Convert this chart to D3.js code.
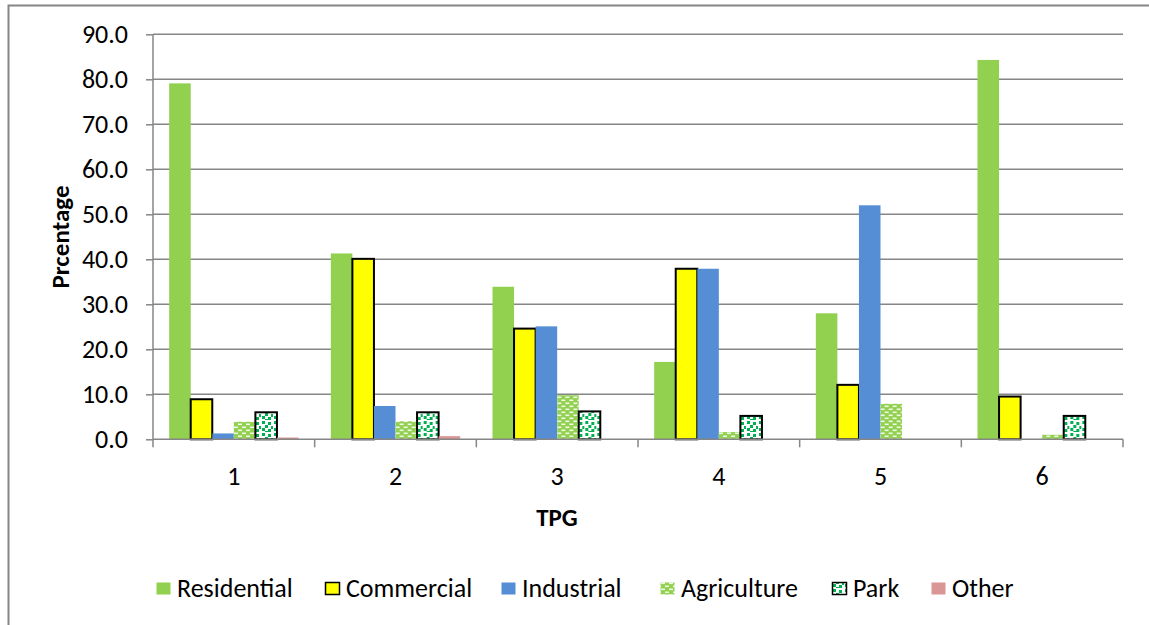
<!DOCTYPE html>
<html>
<head>
<meta charset="utf-8">
<script src="https://cdn.jsdelivr.net/npm/d3@7"></script>
<style>
  html, body { margin: 0; padding: 0; background: #fff; }
  svg { display: block; }
  text { font-family: Carlito, Calibri, Lato, "Open Sans", sans-serif; fill: #000; }
</style>
</head>
<body>
<svg id="chart" width="1149" height="625"></svg>
<script>
// Land-use share (%) by TPG zone
const categories = ["1", "2", "3", "4", "5", "6"];
const seriesNames = ["Residential", "Commercial", "Industrial", "Agriculture", "Park", "Other"];
const residential = [79.1, 41.3, 33.9, 17.2, 28.0, 84.3];
const commercial  = [8.9, 40.1, 24.6, 37.9, 12.1, 9.5];
const industrial  = [1.3, 7.4, 25.1, 37.9, 52.0, 0.0];
const agriculture = [3.9, 4.0, 9.8, 1.6, 7.9, 1.0];
const park        = [6.0, 6.0, 6.2, 5.2, 0.0, 5.2];
const other       = [0.4, 0.7, 0.0, 0.0, 0.0, 0.0];
const yTicks = [0, 10, 20, 30, 40, 50, 60, 70, 80, 90];

const seriesValues = [residential, commercial, industrial, agriculture, park, other];

const svg = d3.select("#chart");
const defs = svg.append("defs");

// Agriculture: green with white dashes
const agr = defs.append("pattern").attr("id", "pat-agr").attr("patternUnits", "userSpaceOnUse")
  .attr("width", 8).attr("height", 6);
agr.append("rect").attr("width", 8).attr("height", 6).attr("fill", "#92d050");
agr.append("rect").attr("x", 1).attr("y", 0.5).attr("width", 4).attr("height", 1.6).attr("fill", "#fff").attr("opacity", 0.85);
agr.append("rect").attr("x", 5).attr("y", 3.5).attr("width", 4).attr("height", 1.6).attr("fill", "#fff").attr("opacity", 0.85);
agr.append("rect").attr("x", -3).attr("y", 3.5).attr("width", 4).attr("height", 1.6).attr("fill", "#fff").attr("opacity", 0.85);

// Park: white with scattered green dots
const prk = defs.append("pattern").attr("id", "pat-park").attr("patternUnits", "userSpaceOnUse")
  .attr("width", 12).attr("height", 12);
prk.append("rect").attr("width", 12).attr("height", 12).attr("fill", "#fff");
[[1, 1], [7, 2], [4, 5], [10, 6], [1, 8], [7, 9], [4, 11]].forEach(([x, y]) => {
  prk.append("rect").attr("x", x).attr("y", y).attr("width", 3).attr("height", 3).attr("fill", "#00b050");
});

const styles = {
  "Residential": { fill: "#92d050", stroke: "none", sw: 0 },
  "Commercial":  { fill: "#ffff00", stroke: "#000", sw: 2 },
  "Industrial":  { fill: "#558ed5", stroke: "none", sw: 0 },
  "Agriculture": { fill: "url(#pat-agr)", stroke: "none", sw: 0 },
  "Park":        { fill: "url(#pat-park)", stroke: "#000", sw: 2 },
  "Other":       { fill: "#d99694", stroke: "none", sw: 0 }
};

// outer chart frame
svg.append("rect").attr("x", 8.5).attr("y", 5.5).attr("width", 1200).attr("height", 700)
  .attr("fill", "none").attr("stroke", "#868686").attr("stroke-width", 2);

const plot = { left: 153, right: 1123, top: 34.3, bottom: 439.3 };

const x0 = d3.scaleBand().domain(categories).range([plot.left, plot.right]).paddingInner(0).paddingOuter(0);
const x1 = d3.scaleBand().domain(seriesNames).range([0, x0.bandwidth()]).paddingOuter(0.75);
const y = d3.scaleLinear().domain([0, 90]).range([plot.bottom, plot.top]);

// gridlines
svg.append("g").selectAll("line").data(yTicks.slice(1)).join("line")
  .attr("x1", plot.left).attr("x2", plot.right)
  .attr("y1", d => y(d)).attr("y2", d => y(d))
  .attr("stroke", "#868686").attr("stroke-width", 1.5);

// bars
const groups = svg.append("g").selectAll("g").data(categories).join("g")
  .attr("transform", d => `translate(${x0(d)},0)`);
groups.selectAll("rect").data((c, i) => seriesNames.map((s, k) => ({ s, v: seriesValues[k][i] })))
  .join("rect")
  .filter(d => d.v > 0)
  .attr("x", d => x1(d.s)).attr("width", x1.bandwidth())
  .attr("y", d => y(d.v)).attr("height", d => y(0) - y(d.v))
  .attr("fill", d => styles[d.s].fill)
  .attr("stroke", d => styles[d.s].stroke)
  .attr("stroke-width", d => styles[d.s].sw);

// y axis
const yAxis = svg.append("g").attr("transform", `translate(${plot.left},0)`)
  .call(d3.axisLeft(y).tickValues(yTicks).tickFormat(d3.format(".1f")).tickSize(7).tickPadding(18));
yAxis.select(".domain").attr("stroke", "#868686").attr("stroke-width", 1.5).attr("d", `M0,${plot.top}V${plot.bottom}`);
yAxis.selectAll(".tick line").attr("stroke", "#868686").attr("stroke-width", 1.5);
yAxis.selectAll(".tick text").attr("font-size", 26).attr("fill", "#000")
  .style("font-family", "Carlito, Calibri, Lato, sans-serif");

// x axis: ticks on category boundaries
const xAxisG = svg.append("g").attr("transform", `translate(0,${plot.bottom})`);
xAxisG.append("line").attr("x1", plot.left).attr("x2", plot.right).attr("y1", 0).attr("y2", 0)
  .attr("stroke", "#868686").attr("stroke-width", 1.5);
const boundaries = categories.map(c => x0(c)).concat([plot.right]);
xAxisG.selectAll("line.tk").data(boundaries).join("line").attr("class", "tk")
  .attr("x1", d => d).attr("x2", d => d).attr("y1", 0).attr("y2", 8)
  .attr("stroke", "#868686").attr("stroke-width", 1.5);
xAxisG.selectAll("text").data(categories).join("text")
  .attr("x", d => x0(d) + x0.bandwidth() / 2).attr("y", 46)
  .attr("text-anchor", "middle").attr("font-size", 26).text(d => d);

// axis titles
svg.append("text").attr("transform", "translate(69,237) rotate(-90)")
  .attr("text-anchor", "middle").attr("font-size", 25).attr("font-weight", "bold").text("Prcentage");
svg.append("text").attr("x", 557).attr("y", 526)
  .attr("text-anchor", "middle").attr("font-size", 25).attr("font-weight", "bold").text("TPG");

// legend: one swatch + label per series, laid out left to right
const legendX = [156, 325, 501, 660, 832, 931];
const legend = svg.append("g");
seriesNames.forEach((s, i) => {
  const st = styles[s];
  const g = legend.append("g").attr("transform", `translate(${legendX[i]},0)`);
  g.append("rect").attr("x", 0.5).attr("y", 582.5).attr("width", 14).attr("height", 12)
    .attr("fill", st.fill).attr("stroke", st.stroke === "none" ? "none" : "#000").attr("stroke-width", st.sw ? 1.5 : 0);
  g.append("text").attr("x", 21).attr("y", 597).attr("font-size", 26).text(s);
});
</script>
</body>
</html>
